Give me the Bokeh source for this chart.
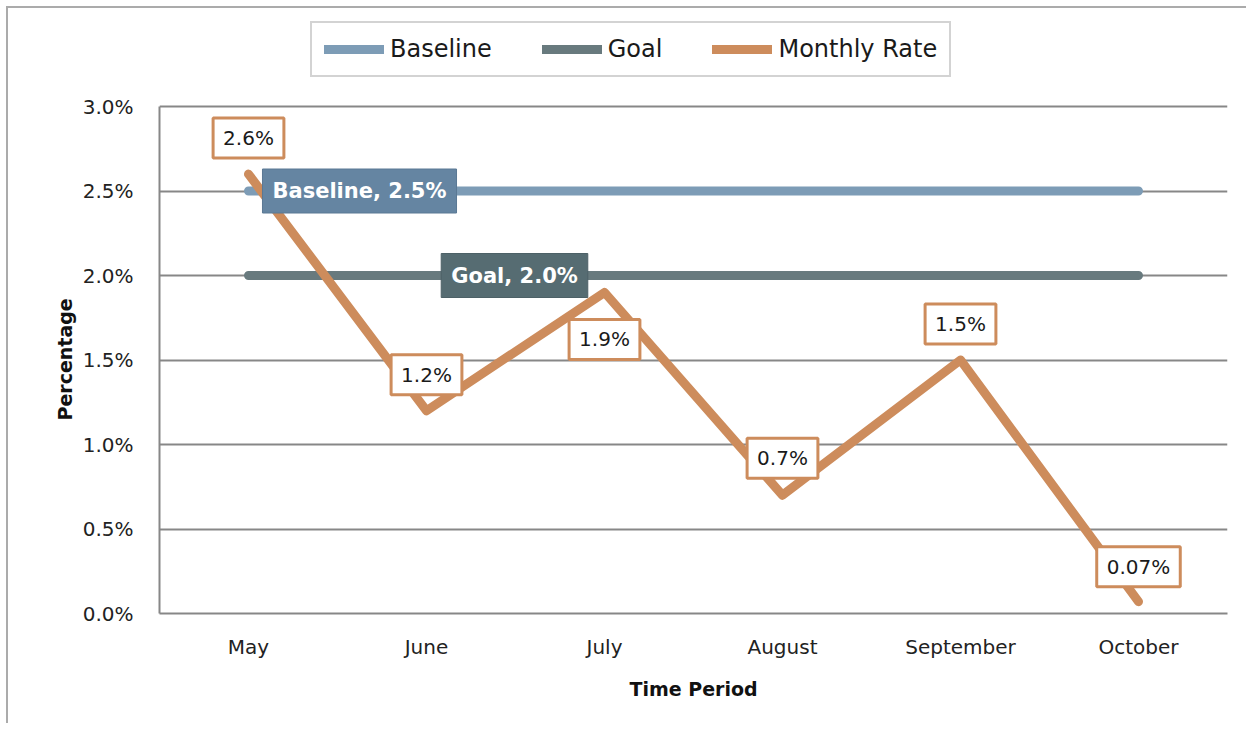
from bokeh.plotting import figure
from bokeh.models import (FactorRange, Range1d, FixedTicker, PrintfTickFormatter,
                          Legend, LegendItem, Label, Title, InlineStyleSheet)
from bokeh.embed import file_html
from bokeh.resources import INLINE

# ---- data ----
months = ["May", "June", "July", "August", "September", "October"]
baseline = [2.5, 2.5, 2.5, 2.5, 2.5, 2.5]
goal = [2.0, 2.0, 2.0, 2.0, 2.0, 2.0]
monthly_rate = [2.6, 1.2, 1.9, 0.7, 1.5, 0.07]
monthly_labels = ["2.6%", "1.2%", "1.9%", "0.7%", "1.5%", "0.07%"]
y_ticks = [0.0, 0.5, 1.0, 1.5, 2.0, 2.5, 3.0]

# ---- style / layout ----
FONT = "DejaVu Sans"
C_BASE = "#7d9cb6"
C_GOAL = "#687a7e"
C_RATE = "#cd8c5c"
GRID = "#878787"
label_offsets = [36, 36, -47, 37, 36, 35]
# the frame reaches up to hold the legend; the 0-3% scale keeps 169 px per 1%
Y_END = 3.0 * (605 - 8) / 507


def factor_x(name):
    # synthetic coordinate of a factor's centre in a FactorRange
    return months.index(name) + 0.5


p = figure(x_range=FactorRange(factors=months), y_range=Range1d(0, Y_END),
           width=1240, height=717, output_backend="svg", toolbar_location=None,
           min_border_left=151, min_border_right=21, min_border_top=8,
           min_border_bottom=112)
p.stylesheets = [InlineStyleSheet(css=":host { margin-left: 6px; margin-top: 6px; "
                                      "border-left: 2px solid #ababab; "
                                      "border-top: 2px solid #ababab; }")]
p.outline_line_color = None
p.background_fill_color = "white"
p.border_fill_color = "white"
p.title.visible = False

r_base = p.line(months, baseline, line_color=C_BASE, line_width=9, line_cap="round")
r_goal = p.line(months, goal, line_color=C_GOAL, line_width=9, line_cap="round")
r_rate = p.line(months, monthly_rate, line_color=C_RATE, line_width=9,
                line_cap="round", line_join="round")

# axes
p.yaxis.ticker = FixedTicker(ticks=y_ticks)
p.yaxis.formatter = PrintfTickFormatter(format="%.1f%%")
p.yaxis.bounds = (y_ticks[0], y_ticks[-1])
for ax in (p.xaxis[0], p.yaxis[0]):
    ax.major_tick_line_color = None
    ax.minor_tick_line_color = None
    ax.axis_line_color = GRID
    ax.axis_line_width = 2
    ax.major_label_text_font = FONT
    ax.major_label_text_font_size = "20px"
    ax.major_label_text_color = "#222222"
    ax.axis_label_text_font = FONT
    ax.axis_label_text_font_size = "19px"
    ax.axis_label_text_font_style = "bold"
    ax.axis_label_text_color = "#111111"
p.yaxis.major_label_standoff = 20
p.xaxis.major_label_standoff = 15
p.xaxis.axis_label = "Time Period"
p.xaxis.axis_label_standoff = 16

# y-axis title, centred on the 0-3% scale rather than on the taller frame
p.add_layout(Title(text="Percentage", align="left", offset=193, standoff=8,
                   text_font=FONT, text_font_size="19px", text_font_style="bold",
                   text_color="#111111"), "left")

p.xgrid.grid_line_color = None
p.ygrid.grid_line_color = GRID
p.ygrid.grid_line_width = 2

# legend
legend = Legend(items=[LegendItem(label="Baseline", renderers=[r_base]),
                       LegendItem(label="Goal", renderers=[r_goal]),
                       LegendItem(label="Monthly Rate", renderers=[r_rate])],
                orientation="horizontal", location=(151, 536),
                label_text_font=FONT, label_text_font_size="24px",
                label_text_color="#1a1a1a", glyph_width=60, glyph_height=28,
                label_standoff=6, spacing=50, padding=12, margin=0,
                border_line_color="#a8a8a8", border_line_width=2,
                background_fill_color="white", background_fill_alpha=1)
p.add_layout(legend, "center")

# data labels
for m, v, t, off in zip(months, monthly_rate, monthly_labels, label_offsets):
    p.add_layout(Label(x=factor_x(m), y=v, y_offset=off, text=t, text_align="center",
                       text_baseline="middle", text_font=FONT, text_font_size="20px",
                       text_color="#1a1a1a", background_fill_color="white",
                       border_line_color=C_RATE, border_line_width=3,
                       padding=dict(left=10, right=10, top=8, bottom=8)))

p.add_layout(Label(x=factor_x(months[0]), y=baseline[0], x_offset=111,
                   text="Baseline, %.1f%%" % baseline[0], text_align="center",
                   text_baseline="middle", text_font=FONT, text_font_size="21px",
                   text_font_style="bold", text_color="white",
                   background_fill_color="#6585a2", border_line_color="#5a7894",
                   border_line_width=1,
                   padding=dict(left=10, right=10, top=10, bottom=10)))
p.add_layout(Label(x=factor_x(months[0]), y=goal[0], x_offset=266,
                   text="Goal, %.1f%%" % goal[0], text_align="center",
                   text_baseline="middle", text_font=FONT, text_font_size="21px",
                   text_font_style="bold", text_color="white",
                   background_fill_color="#566c72", border_line_color="#4d6167",
                   border_line_width=1,
                   padding=dict(left=10, right=10, top=10, bottom=10)))

open("out.html", "w").write(file_html(p, INLINE))
